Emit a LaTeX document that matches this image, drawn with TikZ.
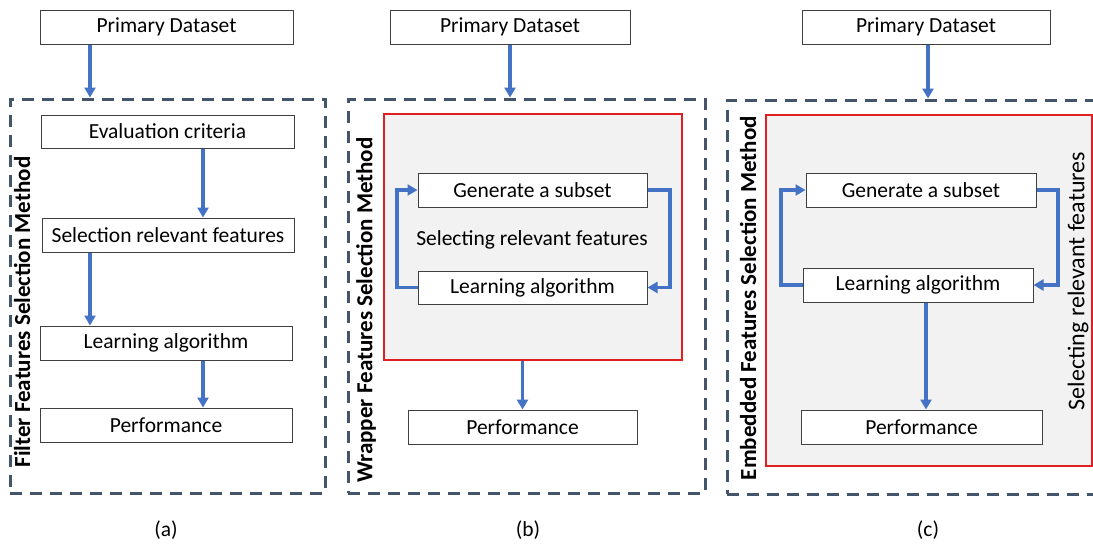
\documentclass[tikz,border=0pt]{standalone}
\usepackage{fontspec}
\setmainfont{Carlito}
\usetikzlibrary{arrows.meta,calc}
\definecolor{dashc}{HTML}{44546A}
\definecolor{arrc}{HTML}{4472C4}
\definecolor{redc}{HTML}{E02020}
\definecolor{grayfill}{HTML}{F2F2F2}
\definecolor{boxc}{HTML}{404040}
\tikzset{
  box/.style={draw=boxc, line width=1pt, fill=white, inner sep=0pt, font=\fontsize{21.5}{25}\selectfont},
  dbox/.style={draw=dashc, line width=3pt, dash pattern=on 12pt off 8pt, inner sep=0pt},
  rbox/.style={draw=redc, line width=2.4pt, fill=grayfill, inner sep=0pt},
  arr/.style={draw=arrc, line width=3.2pt, -{Triangle[length=10pt,width=11pt]}},
  lab/.style={font=\bfseries\fontsize{23}{27}\selectfont, rotate=90},
  txt/.style={font=\fontsize{21.5}{25}\selectfont},
}
\begin{document}
\begin{tikzpicture}[x=1pt,y=-1pt]
\useasboundingbox[fill=white] (0,0) rectangle (1093,544);
% ---------------- (a)
\node[dbox, minimum width=315pt, minimum height=394pt] (da) at (167.5,296) {};
\node[box, minimum width=253pt, minimum height=34pt] (pa) at (166.5,27) {Primary Dataset};
\node[box, minimum width=253pt, minimum height=33pt] (ea) at (167.5,131.5) {Evaluation criteria};
\node[box, minimum width=252pt, minimum height=34pt] (sa) at (168,235) {Selection relevant features};
\node[box, minimum width=252pt, minimum height=34pt] (la) at (166,343) {Learning algorithm};
\node[box, minimum width=252pt, minimum height=34pt] (fa) at (166,425) {Performance};
\node[lab] (ta) at (22,312) {Filter Features Selection Method};
\node[txt] (capa) at (166,530) {(a)};
\coordinate (ax1) at (90,0);
\coordinate (ax2) at (203,0);
\draw[arr] (pa.south -| ax1) -- (da.north -| ax1);
\draw[arr] (ea.south -| ax2) -- (sa.north -| ax2);
\draw[arr] (sa.south -| ax1) -- (la.north -| ax1);
\draw[arr] (la.south -| ax2) -- (fa.north -| ax2);
% ---------------- (b)
\node[dbox, minimum width=357pt, minimum height=394pt] (db) at (526.5,296) {};
\node[rbox, minimum width=298pt, minimum height=246pt] (rb) at (533,237) {};
\node[box, minimum width=240pt, minimum height=34pt] (pb) at (510,27) {Primary Dataset};
\node[box, minimum width=229pt, minimum height=34pt] (gb) at (532.5,190) {Generate a subset};
\node[txt] (sb) at (532,240) {Selecting relevant features};
\node[box, minimum width=229pt, minimum height=33pt] (lb) at (532.5,287.5) {Learning algorithm};
\node[box, minimum width=229pt, minimum height=34pt] (fb) at (522.5,427) {Performance};
\node[lab] (tb) at (366,310) {Wrapper Features Selection Method};
\node[txt] (capb) at (528,530) {(b)};
\coordinate (bx1) at (510,0);
\coordinate (bl) at (397,0);
\coordinate (br) at (670,0);
\draw[arr] (pb.south -| bx1) -- (db.north -| bx1);
\draw[arr] (lb.west) -- (lb.west -| bl) -- (gb.west -| bl) -- (gb.west);
\draw[arr] (gb.east) -- (gb.east -| br) -- (lb.east -| br) -- (lb.east);
\draw[arr] (fb.north |- rb.south) -- (fb.north);
% ---------------- (c)
\node[dbox, minimum width=378pt, minimum height=394pt] (dc) at (916,297) {};
\node[rbox, minimum width=326pt, minimum height=351pt] (rc) at (929,290.5) {};
\node[box, minimum width=248pt, minimum height=34pt] (pc) at (926,27) {Primary Dataset};
\node[box, minimum width=230pt, minimum height=34pt] (gc) at (921,190) {Generate a subset};
\node[box, minimum width=230pt, minimum height=34pt] (lc) at (918,285) {Learning algorithm};
\node[box, minimum width=241pt, minimum height=34pt] (fc) at (921.5,427) {Performance};
\node[font=\fontsize{24}{28}\selectfont, rotate=90] (sc) at (1078,281) {Selecting relevant features};
\node[lab] (tc) at (748,298) {Embedded Features Selection Method};
\node[txt] (capc) at (928,530) {(c)};
\coordinate (cx1) at (928,0);
\coordinate (cx2) at (926,0);
\coordinate (cl) at (781,0);
\coordinate (cr) at (1058,0);
\draw[arr] (pc.south -| cx1) -- (dc.north -| cx1);
\draw[arr] (lc.west) -- (lc.west -| cl) -- (gc.west -| cl) -- (gc.west);
\draw[arr] (gc.east) -- (gc.east -| cr) -- (lc.east -| cr) -- (lc.east);
\draw[arr] (lc.south -| cx2) -- (fc.north -| cx2);
\end{tikzpicture}
\end{document}
